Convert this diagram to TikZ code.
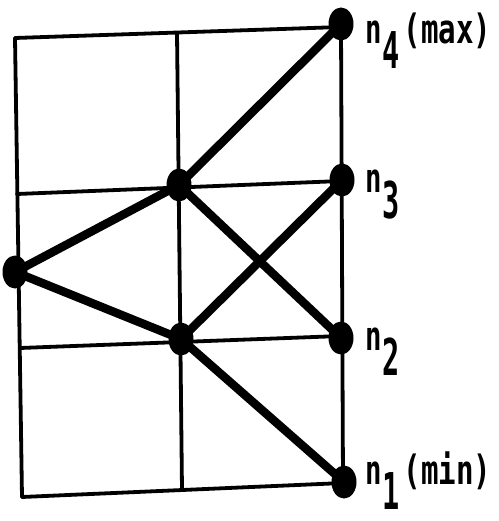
\documentclass[tikz,border=0pt]{standalone}
\usepackage{fontspec}
\usepackage{graphicx}
\usetikzlibrary{shapes.geometric}
\newfontfamily\labfont{DejaVu Sans Mono}
\newcommand\lblsz{\fontsize{26}{26}\selectfont\labfont\bfseries}
\newcommand\nlabel[2]{\scalebox{1.05}[1.55]{\lblsz n}\hspace{1pt}\raisebox{-25pt}{\scalebox{1.1}[1.95]{\lblsz #1}}\hspace{4pt}\scalebox{1.12}[1.55]{\lblsz #2}}
\tikzset{
  gridline/.style={line width=3.8pt, line cap=round},
  edgeline/.style={line width=8.5pt, line cap=round},
  dot/.style={ellipse, fill=black, inner sep=0pt, minimum width=25pt, minimum height=33pt},
  lbl/.style={anchor=base west, inner sep=0pt}
}
\begin{document}
\begin{tikzpicture}[x=1pt, y=-1pt]
\useasboundingbox (0,0) rectangle (498,521);
% grid corners
\coordinate (g11) at (15,38);
\coordinate (g12) at (177,33);
\coordinate (g13) at (341,27);
\coordinate (g21) at (17,194);
\coordinate (g23) at (341,181);
\coordinate (g31) at (20,348);
\coordinate (g33) at (341,336);
\coordinate (g41) at (22,497);
\coordinate (g42) at (182,490);
\coordinate (g43) at (343,483);
% grid
\draw[gridline] (g11) -- (g13);
\draw[gridline] (g21) -- (g23);
\draw[gridline] (g31) -- (g33);
\draw[gridline] (g41) -- (g43);
\draw[gridline] (g11) -- (g41);
\draw[gridline] (g12) -- (g42);
\draw[gridline] (g13) -- (g43);
% dots
\node[dot] (L) at (15,272) {};
\node[dot] (U) at (179,185) {};
\node[dot] (D) at (181,339) {};
\node[dot] (n4) at (341,24) {};
\node[dot] (n3) at (342,180) {};
\node[dot] (n2) at (341,338) {};
\node[dot] (n1) at (344,482) {};
% edges
\draw[edgeline] (L.center) -- (U.center);
\draw[edgeline] (L.center) -- (D.center);
\draw[edgeline] (U.center) -- (n4.center);
\draw[edgeline] (U.center) -- (n2.center);
\draw[edgeline] (D.center) -- (n3.center);
\draw[edgeline] (D.center) -- (n1.center);
% labels
\node[lbl] (t4) at (365,44) {\nlabel{4}{(max)}};
\node[lbl] (t3) at (365,193) {\nlabel{3}{}};
\node[lbl] (t2) at (365,350) {\nlabel{2}{}};
\node[lbl] (t1) at (365,484) {\nlabel{1}{(min)}};
\end{tikzpicture}
\end{document}
